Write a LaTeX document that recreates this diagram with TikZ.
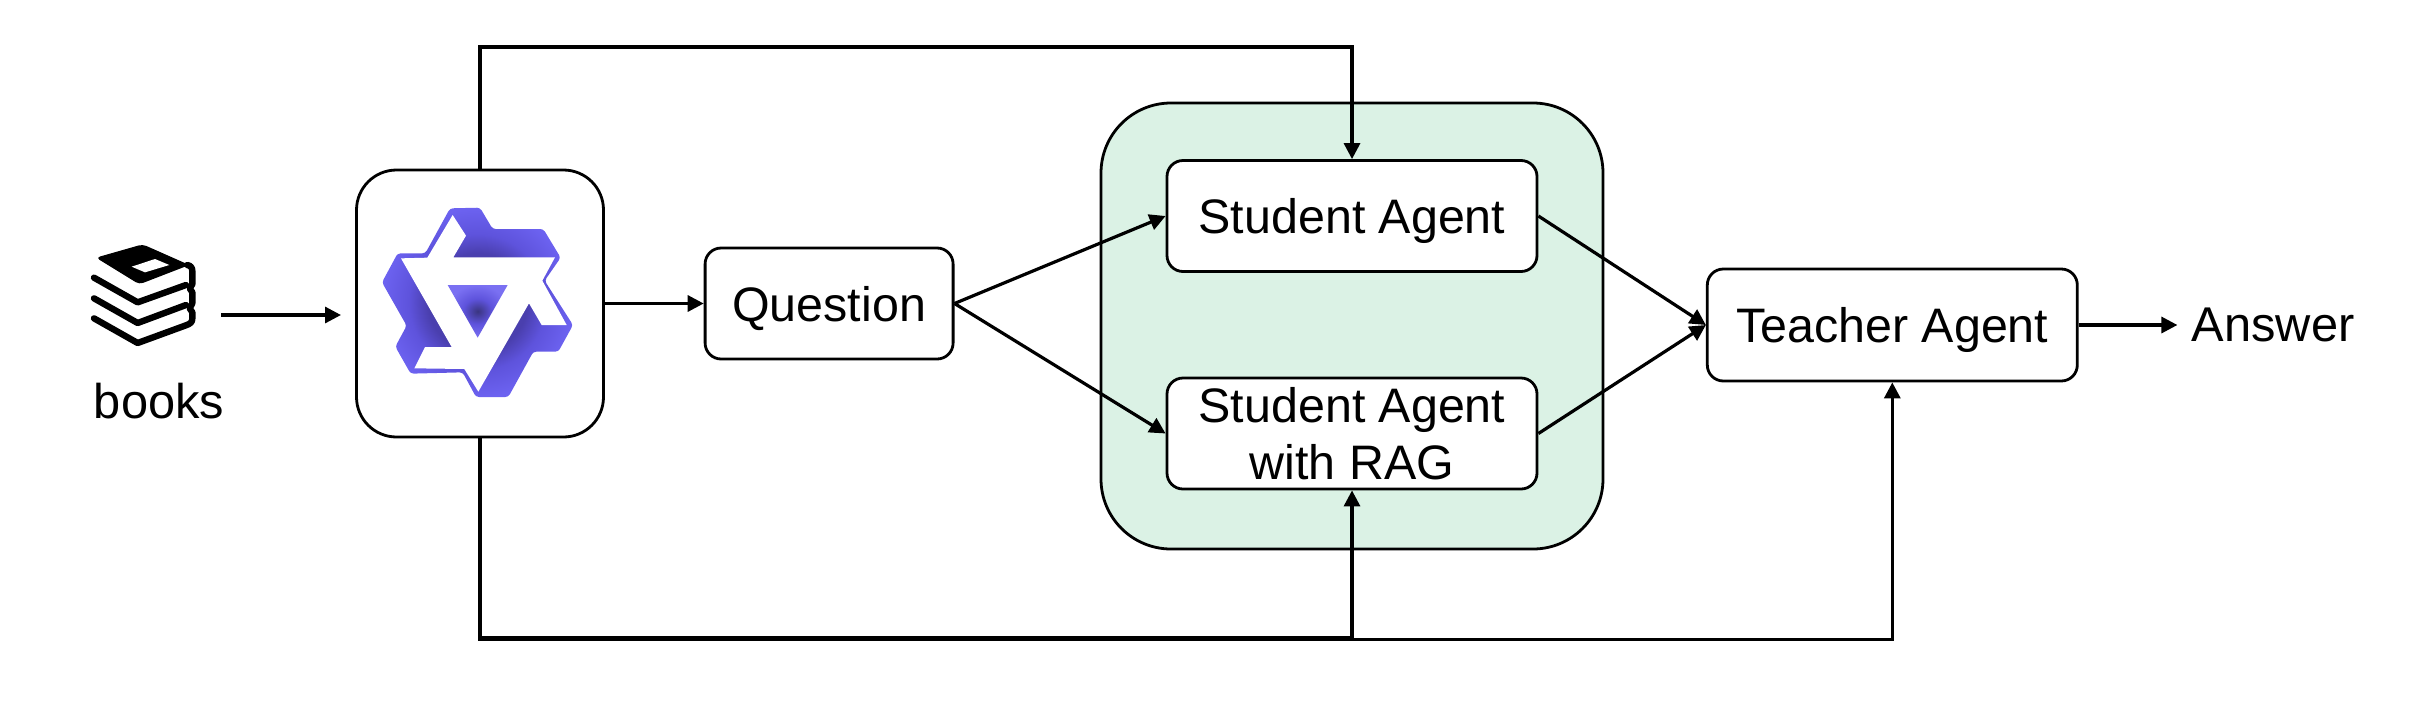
\documentclass[tikz,border=0pt]{standalone}
\usepackage{fontspec}
\setmainfont{Liberation Sans}
\usetikzlibrary{positioning,arrows.meta}
\definecolor{groupgreen}{HTML}{DBF2E5}
\definecolor{qwendark}{HTML}{4A3FAE}
\definecolor{qwenmid}{HTML}{5E53DC}
\definecolor{qwenlight}{HTML}{6C62F0}
\definecolor{coredark}{HTML}{3A3580}
\definecolor{corelight}{HTML}{7A70F2}
\pgfdeclareradialshading{qwenring}{\pgfpoint{0bp}{0bp}}{color(0bp)=(qwendark); color(13bp)=(qwendark); color(18bp)=(qwenmid); color(25bp)=(qwenlight); color(50bp)=(qwenlight)}
\pgfdeclareradialshading{qwencore}{\pgfpoint{0bp}{0bp}}{color(0bp)=(coredark); color(12bp)=(qwenmid); color(25bp)=(corelight); color(50bp)=(corelight)}
\tikzset{
  agentbox/.style={draw,line width=1.4pt,rounded corners=8pt,fill=white,align=center,font=\fontsize{24.2}{28.8}\selectfont,minimum width=185pt,minimum height=55.5pt,inner sep=0pt},
  oneline/.style={text height=17.5pt,text depth=0pt},
  plaintext/.style={font=\fontsize{24.4}{28.8}\selectfont,inner sep=0pt},
  conn/.style={line width=1.6pt,-{Triangle[length=8pt,width=8pt]}}
}
\begin{document}
\begin{tikzpicture}[x=0.5pt,y=-0.5pt]
  \useasboundingbox (0,0) rectangle (2414,724);
  \node[draw,line width=1.4pt,rounded corners=35pt,fill=groupgreen,minimum width=251pt,minimum height=223pt] (group) at (1352,326) {};
  \node[agentbox,oneline] (student) at (1352,216) {Student Agent};
  \node[agentbox,below=51.85pt of student] (rag) {Student Agent\\with RAG};
  \node[agentbox,oneline,minimum height=56pt] (teacher) at (1892.3,325) {Teacher Agent};
  \node[draw,line width=1.4pt,rounded corners=20pt,minimum width=123.5pt,minimum height=133.5pt] (qwen) at (480,303.5) {};
  \node[agentbox,oneline,minimum width=124pt,right=49.4pt of qwen] (question) {Question};
  \node[plaintext,inner sep=7pt,right=49.35pt of teacher] (answer) {Answer};
  \node[plaintext,anchor=base] (bookslabel) at (159,418) {books};
  %
  \coordinate (booksout) at (221,315);
  \coordinate (qwenin) at (341,315);
  \coordinate (topline) at (1352,47);
  \coordinate (ragturn) at (1352,637.5);
  \coordinate (teacherturn) at (1892.3,639.5);
  %
  \draw[conn] (booksout) -- (qwenin);
  \draw[conn] (qwen.east |- question) -- (question);
  \draw[conn] (question.east) -- (student.west);
  \draw[conn] (question.east) -- (rag.west);
  \draw[conn] (student.east) -- (teacher.west);
  \draw[conn] (rag.east) -- (teacher.west);
  \draw[conn] (teacher.east) -- (answer.west);
  \draw[conn] (qwen.north) |- (topline) -- (student.north);
  \draw[conn] (qwen.south) |- (ragturn) -- (rag.south);
  \draw[conn] (qwen.south) |- (teacherturn) -- (teacher.south);
  % logo
  \begin{scope}[shift={(370,195)},scale=1/3]
    \shade[shading=qwenring,rounded corners=1.5pt] (240,40) -- (330,38) -- (368,102) -- (520,102) -- (572,188) -- (524,257) -- (609,390) -- (565,470) -- (490,470) -- (415,606) -- (318,606) -- (278,532) -- (122,536) -- (76,455) -- (110,392) -- (36,262) -- (83,175) -- (166,175) -- cycle;
    \fill[white] (248,60) -- (288,122) -- (250,187) -- (555,187) -- (517,257) -- (590,390) -- (515,390) -- (477,325) -- (325,590) -- (283,522) -- (133,520) -- (165,456) -- (245,456) -- (93,190) -- (172,188) -- cycle;
    \shade[shading=qwencore] (233,270) -- (413,270) -- (323,428) -- cycle;
  \end{scope}
  % books icon
  \begin{scope}[shift={(80,235)},scale=1/3]
    \fill[black,rounded corners=2pt] (48,68) -- (188,28) -- (328,90) -- (178,148) -- cycle;
    \fill[white] (155,95) -- (225,72) -- (268,90) -- (195,112) -- cycle;
    \draw[line width=3.2pt,line cap=round,line join=round] (42,128) -- (173,202) -- (318,150);
    \draw[line width=3.2pt,line cap=round,line join=round] (42,190) -- (173,264) -- (318,210);
    \draw[line width=3.2pt,line cap=round,line join=round] (42,250) -- (173,324) -- (315,272) .. controls (332,266) and (337,262) .. (337,250) -- (337,232) -- (329,220) -- (337,205) -- (337,172) -- (329,160) -- (337,148) -- (337,108) .. controls (337,98) and (332,92) .. (322,90);
  \end{scope}
\end{tikzpicture}
\end{document}
